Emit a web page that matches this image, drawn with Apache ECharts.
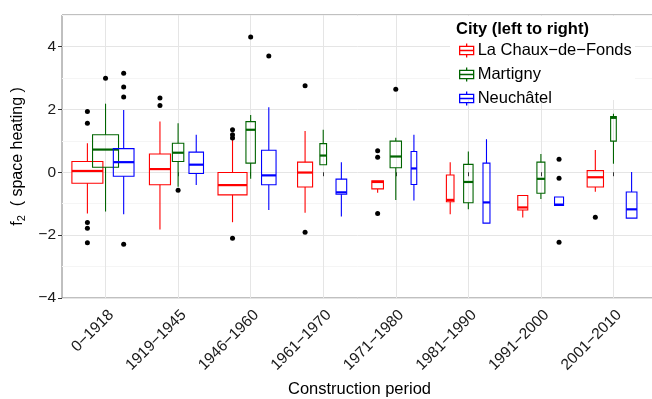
<!DOCTYPE html>
<html><head><meta charset="utf-8">
<script src="https://cdn.jsdelivr.net/npm/echarts@6/dist/echarts.min.js"></script>
<style>html,body{margin:0;padding:0;background:#fff}#c{width:652px;height:399px}</style>
</head><body><div id="c"></div>
<script>
// ---- data ----
const periods = ['0\u22121918','1919\u22121945','1946\u22121960','1961\u22121970','1971\u22121980','1981\u22121990','1991\u22122000','2001\u22122010'];
const cities = ['La Chaux\u2212de\u2212Fonds','Martigny','Neuch\u00e2tel'];
const yTicks = [-4,-2,0,2,4];
// per period: [lower whisker, Q1, median, Q3, upper whisker]
const chauxBoxes = [
  [-1.31,-0.35,0.04,0.34,0.92],
  [-1.82,-0.40,0.10,0.58,1.61],
  [-1.59,-0.72,-0.41,-0.01,1.03],
  [-1.29,-0.47,-0.01,0.32,1.31],
  [-0.65,-0.53,-0.31,-0.27,-0.27],
  [-1.34,-0.94,-0.88,-0.09,0.32],
  [-1.44,-1.20,-1.12,-0.74,-0.74],
  [-0.62,-0.47,-0.16,0.05,0.71]
];
const martignyBoxes = [
  [-1.25,0.16,0.72,1.19,2.18],
  [-0.46,0.34,0.62,0.92,1.56],
  [-0.21,0.29,1.35,1.61,1.82],
  [0.24,0.24,0.53,0.91,1.35],
  [-0.88,0.14,0.50,0.99,1.10],
  [-1.18,-0.97,-0.31,0.25,0.66],
  [-0.85,-0.67,-0.21,0.32,0.58],
  [0.27,0.99,1.73,1.77,1.86]
];
const neuchatelBoxes = [
  [-1.34,-0.13,0.32,0.75,1.98],
  [-0.41,-0.04,0.24,0.64,1.19],
  [-1.20,-0.40,-0.10,0.70,2.07],
  [-1.41,-0.70,-0.64,-0.22,0.32],
  [-0.90,-0.39,0.12,0.66,1.19],
  [-1.62,-1.62,-0.96,0.29,1.05],
  [-1.06,-1.06,-1.03,-0.79,-0.79],
  [-1.46,-1.46,-1.18,-0.63,0.01]
];
// relative box widths (varwidth, ~ sqrt of group size), in category units
const chauxWidth = [0.427,0.29,0.40,0.207,0.16,0.105,0.138,0.225];
const martignyWidth = [0.358,0.157,0.13,0.092,0.157,0.13,0.11,0.078];
const neuchatelWidth = [0.285,0.2,0.2,0.147,0.078,0.096,0.124,0.147];
// outliers: [period index, value]
const chauxOutliers = [[0,1.93],[0,1.56],[0,-1.60],[0,-1.78],[0,-2.24],[1,2.36],[1,2.12],[2,1.35],[2,1.19],[2,1.09],[2,-2.10],[3,2.75],[3,-1.91],[4,0.68],[4,0.48],[4,-1.31],[7,-1.43]];
const martignyOutliers = [[0,2.99],[1,-0.57],[2,4.30],[4,2.64]];
const neuchatelOutliers = [[0,3.15],[0,2.71],[0,2.39],[0,-2.29],[2,3.70],[6,0.41],[6,-0.19],[6,-2.23]];

// ---- styling / build ----
const colors = ['#ff0000','#006400','#0000ff'];
const dodge = [-0.25, 0, 0.25];
const FONT = 'Liberation Sans, Arial, sans-serif';
const boxSets = [chauxBoxes, martignyBoxes, neuchatelBoxes];
const widthSets = [chauxWidth, martignyWidth, neuchatelWidth];
const outlierSets = [chauxOutliers, martignyOutliers, neuchatelOutliers];

function makeRender(offset, color) {
  return function (params, api) {
    const x = api.value(0) + offset;
    const lo = api.coord([x, api.value(1)]);
    const q1 = api.coord([x, api.value(2)]);
    const md = api.coord([x, api.value(3)]);
    const q3 = api.coord([x, api.value(4)]);
    const hi = api.coord([x, api.value(5)]);
    const hw = api.size([api.value(6), 0])[0] / 2;
    const cx = md[0];
    return {type:'group', children:[
      {type:'line', shape:{x1:cx,y1:hi[1],x2:cx,y2:q3[1]}, style:{stroke:color,lineWidth:1.1}},
      {type:'line', shape:{x1:cx,y1:q1[1],x2:cx,y2:lo[1]}, style:{stroke:color,lineWidth:1.1}},
      {type:'rect', shape:{x:cx-hw,y:q3[1],width:2*hw,height:q1[1]-q3[1]}, style:{fill:'none',stroke:color,lineWidth:1.1}},
      {type:'line', shape:{x1:cx-hw,y1:md[1],x2:cx+hw,y2:md[1]}, style:{stroke:color,lineWidth:2.2}}
    ]};
  };
}

const series = [];
cities.forEach(function (c, i) {
  series.push({
    type:'custom', name:c, xAxisIndex:0, yAxisIndex:0,
    itemStyle:{color:colors[i]},
    renderItem: makeRender(dodge[i], colors[i]),
    encode:{x:0, y:[1,2,3,4,5]},
    data: boxSets[i].map(function (b, k) { return [k].concat(b).concat([widthSets[i][k]]); }),
    z: 3
  });
});
cities.forEach(function (c, i) {
  series.push({
    type:'scatter', name:'outliers'+i, xAxisIndex:0, yAxisIndex:0,
    symbol:'circle', symbolSize:5,
    itemStyle:{color:'#000', opacity:1},
    data: outlierSets[i].map(function (o) { return [o[0] + dodge[i], o[1]]; }),
    z: 4
  });
});

const legendIcon = 'path://M10,0 L10,4 M0,4 L20,4 L20,16 L0,16 Z M0,10 L20,10 M10,16 L10,20';

const option = {
  animation:false,
  backgroundColor:'#fff',
  textStyle:{fontFamily:FONT},
  grid:{left:62, top:15, width:595, height:283, show:true, borderColor:'#808080', borderWidth:1, backgroundColor:'#fff', outerBoundsMode:'none', containLabel:false},
  title:{text:'City (left to right)', left:451, top:16, textStyle:{fontSize:16.5, fontWeight:'bold', color:'#000', fontFamily:FONT}},
  legend:{orient:'vertical', left:454, top:37, itemWidth:18, itemHeight:14, itemGap:7,
    icon:legendIcon,
    textStyle:{fontSize:16.5, color:'#000', fontFamily:FONT, padding:[0,0,0,-3]},
    data: cities.map(function (c, i) { return {name:c, itemStyle:{color:'rgba(0,0,0,0)', borderColor:colors[i], borderWidth:1.3}}; })
  },
  graphic:[{type:'rect', shape:{x:450, y:16, width:185, height:84}, style:{fill:'#fff'}, z:1, silent:true}],
  xAxis:{type:'value', min:-0.6, max:7.6,
    axisLine:{show:false},
    axisTick:{show:true, customValues:[0,1,2,3,4,5,6,7], length:4, lineStyle:{color:'#333'}},
    axisLabel:{customValues:[0,1,2,3,4,5,6,7], formatter:function (v) { return periods[Math.round(v)]; }, rotate:45, fontSize:15.5, color:'#1a1a1a', margin:9, verticalAlign:'top', align:'right', fontFamily:FONT},
    splitLine:{show:true, lineStyle:{color:'#e5e5e5', width:1}},
    name:'Construction period', nameLocation:'middle', nameGap:83,
    nameTextStyle:{fontSize:16.5, color:'#000', fontFamily:FONT}
  },
  yAxis:[
    {type:'value', min:-4, max:5, interval:1, position:'left',
      axisLine:{show:false}, axisTick:{show:false}, axisLabel:{show:false},
      splitLine:{show:true, lineStyle:{color:['#e5e5e5','#f5f5f5'], width:1}}
    },
    {type:'value', min:-4, max:5, position:'left',
      axisLine:{show:false},
      axisTick:{show:true, customValues:yTicks, length:4, lineStyle:{color:'#333'}},
      axisLabel:{customValues:yTicks, formatter:function (v) { return v < 0 ? '\u2212' + (-v) : String(v); }, fontSize:15.5, color:'#1a1a1a', margin:6, fontFamily:FONT},
      splitLine:{show:false},
      name:'f{s|2}  ( space heating )', nameLocation:'middle', nameGap:28, nameRotate:90,
      nameTextStyle:{fontSize:16, color:'#000', fontFamily:FONT, rich:{s:{fontSize:11, verticalAlign:'bottom', padding:[9,0,0,0], fontFamily:FONT, color:'#000'}}}
    }
  ],
  series:series
};
const chart = echarts.init(document.getElementById('c'), null, {renderer:'canvas'});
chart.setOption(option);
</script></body></html>
